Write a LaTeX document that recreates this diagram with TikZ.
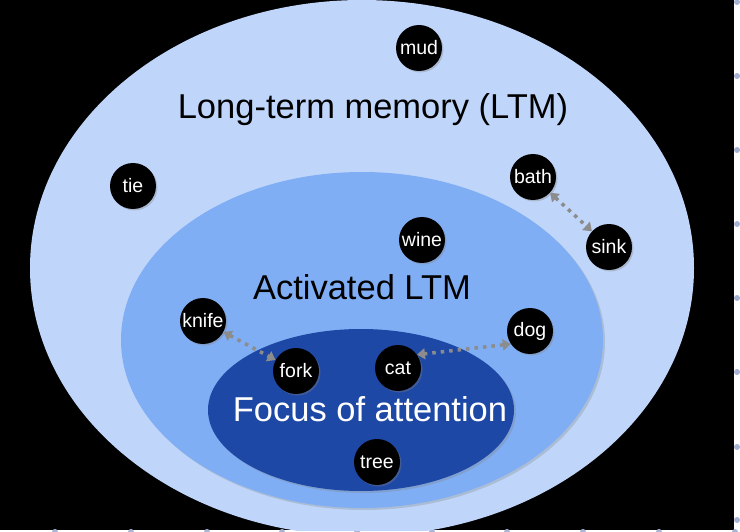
\documentclass[tikz,border=0pt]{standalone}
\usepackage{fontspec}
\setmainfont{Liberation Sans}
\usetikzlibrary{arrows.meta,shadows}

\definecolor{ltmblue}{HTML}{BFD6FA}
\definecolor{actblue}{HTML}{80AEF4}
\definecolor{focusblue}{HTML}{1E48A6}
\definecolor{linkgrey}{HTML}{8C8C8C}
\definecolor{dotblue}{HTML}{A8B4D6}

\tikzset{
  word/.style={circle, fill=black, text=white, minimum size=46pt, inner sep=0pt,
    font=\fontsize{19.5}{21}\selectfont,
    drop shadow={opacity=0.35, shadow xshift=1.5pt, shadow yshift=-1.5pt}},
  link/.style={linkgrey, line width=3.5pt, dash pattern=on 3.5pt off 5pt,
    {Triangle[width=11pt,length=8pt]}-{Triangle[width=11pt,length=8pt]}},
  big/.style={font=\fontsize{34.5}{40}\selectfont},
  layer/.style={drop shadow={opacity=0.3, shadow xshift=2pt, shadow yshift=-2pt}}
}

\begin{document}
\begin{tikzpicture}[x=1pt,y=-1pt]
	\useasboundingbox (0,0) rectangle (740,532);
	\fill[white] (0,0) rectangle (740,532);
	\fill[black] (0,0) rectangle (734,530);
	\foreach \y in {2,76,150,224,298,372,447,520}
		\fill[dotblue] (737,\y) circle (3pt);
	\foreach \x in {55,131,207,282,357,432,507,583,659,735}
		\fill[dotblue] (\x,532) circle (3pt);

	% memory layers
	\begin{scope}
		\clip (0,0) rectangle (734,530);
		\fill[ltmblue] (362,268) ellipse [x radius=332pt, y radius=268pt];
	\end{scope}
	\fill[actblue, layer] (362,340) ellipse [x radius=241pt, y radius=168pt];
	\fill[focusblue, layer] (361,410) ellipse [x radius=153pt, y radius=81pt];

	\node[big] (ltm) at (373,110) {Long-term memory (LTM)};
	\node[big] (act) at (362,287) {Activated LTM};
	\node[big, text=white] (foa) at (370,409) {Focus of attention};

	% items
	\node[word] (mud) at (419,48) {mud};
	\node[word] (tie) at (133,186) {tie};
	\node[word] (bath) at (533,177) {bath};
	\node[word] (sink) at (609,247) {sink};
	\node[word] (wine) at (422,240) {wine};
	\node[word] (knife) at (203,321) {knife};
	\node[word] (dog) at (530,331) {dog};
	\node[word] (fork) at (296,371) {fork};
	\node[word] (cat) at (398,368) {cat};
	\node[word] (tree) at (377,462) {tree};

	\draw[link] (bath) -- (sink);
	\draw[link] (knife) -- (fork);
	\draw[link] (dog.214) -- (cat.35);
\end{tikzpicture}
\end{document}
